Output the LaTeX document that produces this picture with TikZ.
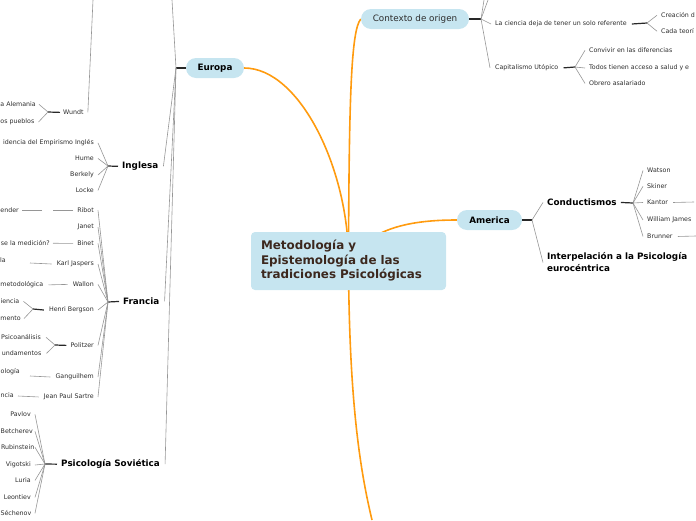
\documentclass[tikz,border=0pt]{standalone}
\usepackage{fontspec}
\setmainfont{DejaVu Sans}
\usetikzlibrary{backgrounds}
\definecolor{pill}{RGB}{198,229,240}
\definecolor{orng}{RGB}{255,155,15}
\definecolor{gline}{RGB}{150,150,150}
\definecolor{stubc}{RGB}{40,40,40}
\definecolor{txt}{RGB}{45,45,45}
\definecolor{ctxt}{RGB}{60,40,30}
\begin{document}
\begin{tikzpicture}[x=1pt,y=-1pt,
 sm/.style={inner sep=0pt, font=\fontsize{6.3}{7.5}\selectfont, text=txt},
 lv/.style={inner sep=0pt, font=\fontsize{8.8}{12}\selectfont\bfseries, text=black},
 pillbox/.style={fill=pill, rounded corners=10pt, minimum height=20pt, inner sep=0pt},
 gl/.style={draw=gline, line width=0.6pt},
 stb/.style={draw=stubc, line width=1.2pt},
 ol/.style={draw=orng, line width=1.6pt},
]
\useasboundingbox (0,0) rectangle (696,520);

% central
\node[fill=pill, rounded corners=4pt, minimum width=195pt, minimum height=58pt,
      text width=175pt, align=left, inner xsep=10pt, inner ysep=0pt,
      font=\fontsize{11.9}{14.5}\selectfont\bfseries, text=ctxt] (root) at (348.5,261)
  {Metodología y\\Epistemología de las\\tradiciones Psicológicas};

% level 1
\node[pillbox, minimum width=58pt, lv] (eur) at (215,68) {Europa};
\node[pillbox, minimum width=108pt, font=\fontsize{8.8}{12}\selectfont, text=txt] (ctx) at (415,19) {Contexto de origen};
\node[pillbox, minimum width=65pt, lv] (ame) at (489.5,220) {America};
\coordinate (bot) at (372,520);

\begin{pgfonlayer}{background}
\draw[ol] (eur.east) .. controls (300,68) and (349,170) .. (root.center);
\draw[ol] (ctx.west) .. controls (351,30) and (349,100) .. (root.center);
\draw[ol] (root.center) .. controls (349,400) and (360,470) .. (bot);
\draw[ol] (root.center) .. controls (370,228) and (410,220) .. (ame.west);
\end{pgfonlayer}

% ===== Europa =====
\coordinate (ef) at (176,68);
\coordinate (etop) at (172,0);
\node[lv, anchor=mid west] (ing) at (122,166) {Inglesa};
\node[lv, anchor=mid west] (fra) at (123,302) {Francia};
\node[lv, anchor=mid west] (sov) at (61,464) {Psicología Soviética};
\draw[stb] (eur.west) -- (ef);
\draw[gl] (ef) -- (etop);
\draw[gl] (ef) -- ([xshift=5pt]ing.east);
\draw[gl] (ef) -- ([xshift=5pt]fra.east);
\draw[gl] (ef) -- ([xshift=5pt]sov.east);

% Wundt
\node[sm, anchor=mid west] (wun) at (63,112) {Wundt};
\coordinate (wtop) at (93,0);
\coordinate (wf) at (48,112);
\draw[gl] ([xshift=4pt]wun.east) -- (wtop);
\draw[stb] (wf) -- ([xshift=-3pt]wun.west);
\node[sm, anchor=mid east] (w1) at (36,104) {a Alemania};
\node[sm, anchor=mid east] (w2) at (34.5,121) {os pueblos};
\draw[gl] (wf) -- ([xshift=3pt]w1.east);
\draw[gl] (wf) -- ([xshift=4pt]w2.east);

% Inglesa
\coordinate (if) at (108,166);
\draw[stb] (if) -- ([xshift=-4pt]ing.west);
\node[sm, anchor=mid east] (i1) at (94,142) {idencia del Empirismo Inglés};
\node[sm, anchor=mid east] (i2) at (94,158) {Hume};
\node[sm, anchor=mid east] (i3) at (94,174) {Berkely};
\node[sm, anchor=mid east] (i4) at (94,190) {Locke};
\foreach \n in {i1,i2,i3,i4} \draw[gl] ([xshift=4pt]\n.east) -- (if);

% Francia
\coordinate (ff) at (108,302);
\draw[stb] (ff) -- ([xshift=-4pt]fra.west);
\node[sm, anchor=mid east] (f1) at (94,210) {Ribot};
\node[sm, anchor=mid east] (f2) at (94,226) {Janet};
\node[sm, anchor=mid east] (f3) at (94,243) {Binet};
\node[sm, anchor=mid east] (f4) at (94,263) {Karl Jaspers};
\node[sm, anchor=mid east] (f5) at (94,284) {Wallon};
\node[sm, anchor=mid east] (f6) at (94,309) {Henri Bergson};
\node[sm, anchor=mid east] (f7) at (94,345) {Politzer};
\node[sm, anchor=mid east] (f8) at (94,376) {Ganguilhem};
\node[sm, anchor=mid east] (f9) at (94,396) {Jean Paul Sartre};
\foreach \n in {f1,f2,f3,f4,f5,f6,f7,f8,f9} \draw[gl] ([xshift=4pt]\n.east) -- (ff);

% Francia children
\node[sm, anchor=mid east] (r1) at (19,210) {ender};
\draw[gl, dash pattern=on 20pt off 11pt on 20pt] ([xshift=-4pt]f1.west) -- ([xshift=3pt]r1.east);
\node[sm, anchor=mid east] (b1) at (50,243) {se la medición?};
\draw[gl] ([xshift=-4pt]f3.west) -- ([xshift=3pt]b1.east);
\node[sm, anchor=mid east] (k1) at (6,260) {la};
\coordinate (k1c) at (30,263);
\draw[gl] ([xshift=-5pt]f4.west) -- (k1c);
\node[sm, anchor=mid east] (wa1) at (43.5,284) {metodológica};
\draw[gl] ([xshift=-5pt]f5.west) -- ([xshift=5pt]wa1.east);
\coordinate (hb) at (33,309);
\draw[stb] (hb) -- ([xshift=-5pt]f6.west);
\node[sm, anchor=mid east] (h1) at (19.5,301) {iencia};
\node[sm, anchor=mid east] (h2) at (21,318) {mento};
\draw[gl] (hb) -- ([xshift=4pt]h1.east);
\draw[gl] (hb) -- ([xshift=3pt]h2.east);
\coordinate (pf) at (55,345);
\draw[stb] (pf) -- ([xshift=-4pt]f7.west);
\node[sm, anchor=mid east] (p1) at (41,337) {Psicoanálisis};
\node[sm, anchor=mid east] (p2) at (41.5,353) {undamentos};
\draw[gl] (pf) -- ([xshift=5pt]p1.east);
\draw[gl] (pf) -- ([xshift=5pt]p2.east);
\node[sm, anchor=mid east] (g1) at (20,371) {ología};
\coordinate (g1c) at (30,376);
\draw[gl] ([xshift=-5pt]f8.west) -- (g1c);
\node[sm, anchor=mid east] (s1) at (14,395) {ncia};
\coordinate (s1c) at (18,396);
\draw[gl] ([xshift=-5pt]f9.west) -- (s1c);

% Sovietica
\coordinate (sf) at (45,464);
\draw[stb] (sf) -- ([xshift=-4pt]sov.west);
\node[sm, anchor=mid east] (v1) at (31,414) {Pavlov};
\node[sm, anchor=mid east] (v2) at (33,431) {Betcherev};
\node[sm, anchor=mid east] (v3) at (34.5,447) {Rubinstein};
\node[sm, anchor=mid east] (v4) at (31,464) {Vigotski};
\node[sm, anchor=mid east] (v5) at (31,480) {Luria};
\node[sm, anchor=mid east] (v6) at (31,497) {Leontiev};
\node[sm, anchor=mid east] (v7) at (31.5,513) {Séchenov};
\foreach \n in {v1,v2,v3,v4,v5,v6,v7} \draw[gl] (\n.east -| 35,0) -- (sf);

% ===== Contexto =====
\coordinate (cf) at (481,19);
\coordinate (ct1) at (484,0);
\coordinate (ct2) at (488,0);
\draw[stb] (ctx.east) -- (cf);
\draw[gl] (cf) -- (ct1);
\draw[gl] (cf) -- (ct2);
\node[sm, anchor=mid west] (lc) at (495,23) {La ciencia deja de tener un solo referente};
\node[sm, anchor=mid west] (cap) at (495,67) {Capitalismo Utópico};
\draw[gl] (cf) -- ([xshift=-4pt]lc.west);
\draw[gl] (cf) -- ([xshift=-5pt]cap.west);

\coordinate (lf) at (647,23);
\draw[stb] ([xshift=5pt]lc.east) -- (lf);
\node[sm, anchor=mid west] (l1) at (661,15) {Creación d};
\node[sm, anchor=mid west] (l2) at (661,31) {Cada teorí};
\draw[gl] (lf) -- ([xshift=-4pt]l1.west);
\draw[gl] (lf) -- ([xshift=-4pt]l2.west);

\coordinate (kf) at (575,67);
\draw[stb] ([xshift=5pt]cap.east) -- (kf);
\node[sm, anchor=mid west] (c1) at (589,50) {Convivir en las diferencias};
\node[sm, anchor=mid west] (c2) at (589,67) {Todos tienen acceso a salud y e};
\node[sm, anchor=mid west] (c3) at (589,83) {Obrero asalariado};
\foreach \n in {c1,c2,c3} \draw[gl] (kf) -- ([xshift=-4pt]\n.west);

% ===== America =====
\coordinate (af) at (532,220);
\draw[stb] (ame.east) -- (af);
\node[lv, anchor=mid west] (con) at (547,203) {Conductismos};
\node[lv, anchor=north west, align=left] (int) at (547,252.7) {Interpelación a la Psicología\\eurocéntrica};
\draw[gl] (af) -- ([xshift=-4pt]con.west);
\draw[gl] (af) -- ([xshift=-4pt]int.west);

\coordinate (cdf) at (633,203);
\draw[stb] ([xshift=4pt]con.east) -- (cdf);
\node[sm, anchor=mid west] (a1) at (647,170) {Watson};
\node[sm, anchor=mid west] (a2) at (647,186) {Skiner};
\node[sm, anchor=mid west] (a3) at (647,202) {Kantor};
\node[sm, anchor=mid west] (a4) at (647,219) {William James};
\node[sm, anchor=mid west] (a5) at (647,236) {Brunner};
\foreach \n in {a1,a2,a3,a4,a5} \draw[gl] (cdf) -- ([xshift=-4pt]\n.west);
\coordinate (ka) at (694,202);
\coordinate (br) at (696,236);
\draw[gl] ([xshift=5pt]a3.east) -- (ka);
\draw[gl] ([xshift=5pt]a5.east) -- (br);
\end{tikzpicture}
\end{document}
